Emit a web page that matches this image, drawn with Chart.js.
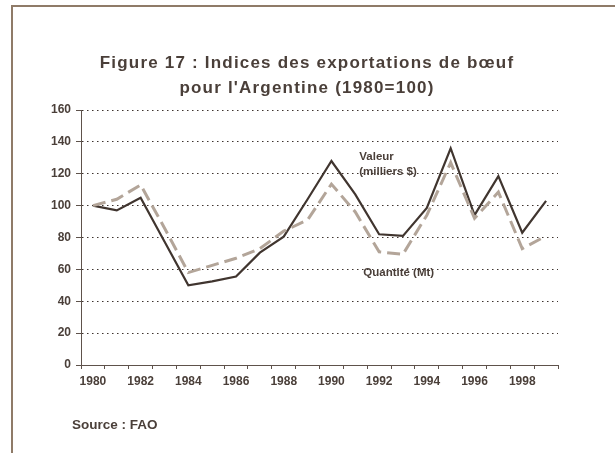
<!DOCTYPE html>
<html>
<head>
<meta charset="utf-8">
<script src="https://cdn.jsdelivr.net/npm/chart.js@4.4.0/dist/chart.umd.min.js"></script>
<style>
    body { margin: 0; background: #fff; }
    #wrap { position: relative; width: 615px; height: 453px; overflow: hidden; }
    #frame { position: absolute; left: 11px; top: 5px; width: 700px; height: 500px;
             border-top: 2px solid #8f7b68; border-left: 2px solid #8f7b68; }
    #chart { position: absolute; left: 0; top: 0; }
</style>
</head>
<body>
<div id="wrap">
    <div id="frame"></div>
    <canvas id="chart" width="615" height="453"></canvas>
</div>
<script>
const years = ['1980', '1981', '1982', '1983', '1984', '1985', '1986', '1987', '1988', '1989',
               '1990', '1991', '1992', '1993', '1994', '1995', '1996', '1997', '1998', '1999'];
const valeur = [100, 97, 105, 77.5, 50, 52.5, 55.5, 70.5, 80.5, 104,
                128, 107, 82, 81, 98.5, 136, 94, 118.5, 83, 103];
const quantite = [100, 104, 113, 86, 58, 62.5, 67, 73, 84, 91,
                  113.5, 96, 71, 69.5, 94, 127, 92, 108.5, 73, 81];
const yTicks = [0, 20, 40, 60, 80, 100, 120, 140, 160];

const titleLines = ['Figure 17 : Indices des exportations de bœuf', "pour l'Argentine (1980=100)"];
const noteValeur = ['Valeur', '(milliers $)'];
const noteQuantite = 'Quantité (Mt)';
const sourceText = 'Source : FAO';

const textColor = '#4a3f39';
const axisColor = '#5e524b';
const fontFamily = '"Liberation Sans", Arial, Helvetica, sans-serif';

// titles, labels next to the lines and source
const textPlugin = {
    id: 'texts',
    afterDraw(chart) {
        const ctx = chart.ctx;
        const x = chart.scales.x;
        const y = chart.scales.y;
        ctx.save();
        ctx.fillStyle = textColor;
        ctx.textBaseline = 'middle';

        ctx.textAlign = 'center';
        ctx.font = 'bold 17px ' + fontFamily;
        ctx.letterSpacing = '1.2px';
        titleLines.forEach((t, i) => ctx.fillText(t, 307, 63 + i * 25));
        ctx.letterSpacing = '0px';

        ctx.textAlign = 'left';
        ctx.font = 'bold 11.5px ' + fontFamily;
        const xNote = x.getPixelForValue(11) + 4;
        ctx.fillText(noteValeur[0], xNote, y.getPixelForValue(130.5));
        ctx.fillText(noteValeur[1], xNote, y.getPixelForValue(121));
        ctx.fillText(noteQuantite, xNote + 4, y.getPixelForValue(58));

        ctx.font = 'bold 13.5px ' + fontFamily;
        ctx.fillText(sourceText, 72, 425);
        ctx.restore();
    }
};

const ctx = document.getElementById('chart').getContext('2d');
new Chart(ctx, {
    type: 'line',
    data: {
        labels: years,
        datasets: [{
            label: 'Quantité (Mt)',
            data: quantite,
            borderColor: '#b3a599',
            borderWidth: 3,
            borderDash: [13, 6],
            pointRadius: 0,
            tension: 0,
            fill: false
        }, {
            label: 'Valeur (milliers $)',
            data: valeur,
            borderColor: '#40352f',
            borderWidth: 2.2,
            pointRadius: 0,
            tension: 0,
            fill: false
        }]
    },
    options: {
        responsive: false,
        animation: false,
        layout: { padding: { left: 11, right: 57, top: 110, bottom: 58 } },
        plugins: {
            legend: { display: false },
            title: { display: false },
            tooltip: { enabled: false }
        },
        scales: {
            x: {
                type: 'category',
                offset: true,
                grid: { offset: true, drawOnChartArea: false, tickLength: 4, tickColor: axisColor },
                border: { color: axisColor, width: 1 },
                ticks: {
                    autoSkip: false,
                    maxRotation: 0,
                    padding: 5,
                    color: textColor,
                    font: { family: fontFamily, size: 12, weight: 'bold' },
                    callback: (v, i) => (i % 2 === 0 ? years[i] : '')
                },
                afterFit: s => { s.height = 30; }
            },
            y: {
                min: yTicks[0],
                max: yTicks[yTicks.length - 1],
                afterBuildTicks: s => { s.ticks = yTicks.map(v => ({ value: v })); },
                grid: {
                    color: c => (c.tick && c.tick.value === 0 ? 'rgba(0,0,0,0)' : '#3d332e'),
                    tickLength: 5,
                    tickColor: axisColor
                },
                border: { color: axisColor, width: 1, dash: [1.5, 3.5] },
                ticks: {
                    padding: 5,
                    color: textColor,
                    font: { family: fontFamily, size: 12, weight: 'bold' }
                },
                afterFit: s => { s.width = 70; }
            }
        }
    },
    plugins: [textPlugin]
});
</script>
</body>
</html>
